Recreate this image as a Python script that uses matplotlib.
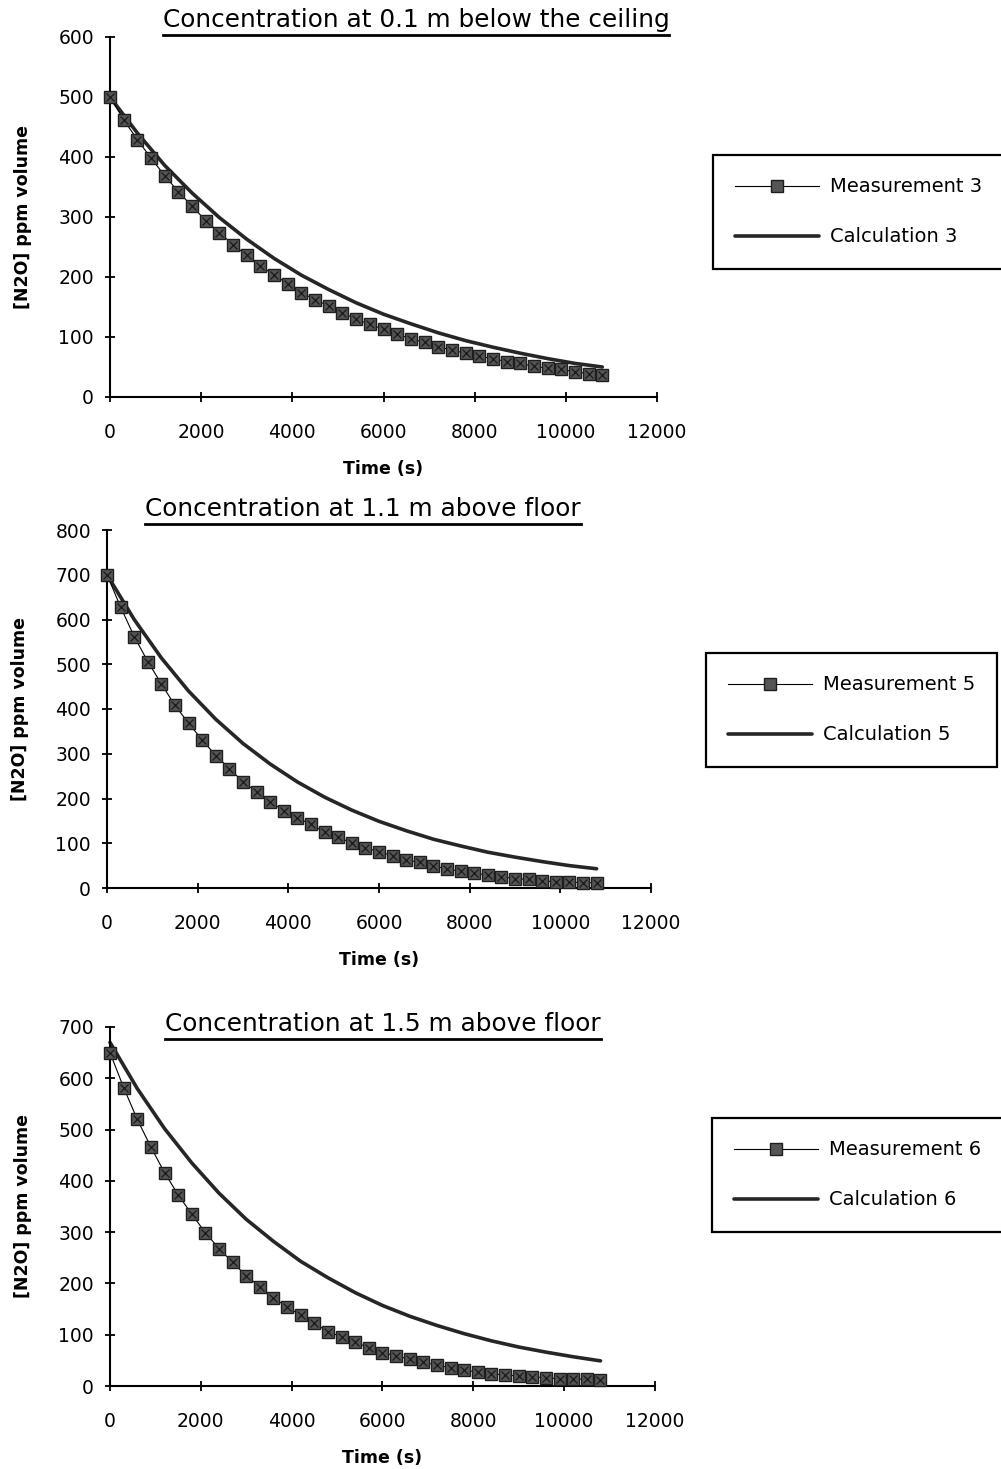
import numpy as np
import matplotlib
matplotlib.use("Agg")
import matplotlib.pyplot as plt
from matplotlib.lines import Line2D

# measurement times (s), one reading every 300 s
t_meas = np.arange(0, 10801, 300)
# calculation curve read every 600 s
t_calc = np.arange(0, 10801, 600)

meas3 = [500, 462, 429, 398, 369, 342, 318, 294, 274, 254, 236, 219, 203, 189,
         174, 162, 152, 140, 130, 121, 113, 105, 97, 91, 84, 78, 73, 68, 64,
         59, 56, 51, 48, 46, 42, 39, 36]
calc3 = [500, 440, 386, 340, 299, 263, 231, 203, 179, 157, 138, 122, 107, 94,
         83, 73, 64, 56, 50]

meas5 = [700, 628, 562, 506, 456, 408, 368, 331, 296, 267, 237, 215, 193, 172,
         157, 142, 125, 113, 101, 90, 81, 72, 63, 57, 49, 43, 37, 34, 28, 25,
         21, 19, 16, 14, 13, 12, 12]
calc5 = [700, 600, 514, 440, 377, 323, 277, 237, 203, 174, 149, 128, 109, 94,
         80, 69, 59, 50, 43]

meas6 = [650, 582, 520, 466, 416, 373, 335, 299, 268, 241, 215, 194, 172, 154,
         138, 122, 106, 96, 85, 75, 65, 59, 52, 47, 40, 36, 31, 27, 24, 21,
         20, 18, 16, 14, 14, 13, 12]
calc6 = [670, 580, 502, 435, 376, 325, 282, 243, 211, 182, 157, 136, 118, 102,
         88, 76, 66, 57, 49]

titles = ["Concentration at 0.1 m below the ceiling",
          "Concentration at 1.1 m above floor",
          "Concentration at 1.5 m above floor"]
numbers = [3, 5, 6]
ymaxes = [600, 800, 700]

W, H = 1001, 1469
fig = plt.figure(figsize=(W / 100, H / 100), dpi=100)
fig.patch.set_facecolor("white")

# pixel boxes: left, right, top, bottom of each plot area
boxes = [(110, 657, 37, 397), (107, 651, 530, 888), (110, 655, 1027, 1386)]
title_pos = [(416, 20), (363, 509), (383, 1024)]
legend_pos = [(713, 155), (706, 653), (712, 1118)]

panels = [(meas3, calc3), (meas5, calc5), (meas6, calc6)]

title_texts = []
for i in range(3):
    l, r, tp, b = boxes[i]
    ax = fig.add_axes([l / W, 1 - b / H, (r - l) / W, (b - tp) / H])
    meas, calc = panels[i]
    n = numbers[i]

    lc, = ax.plot(t_calc, calc, color="#262626", lw=2.6, clip_on=False,
                  solid_capstyle="round", zorder=2)
    lm, = ax.plot(t_meas, meas, color="black", lw=0.8, marker="s", ms=8,
                  mfc="#555555", mec="#1e1e1e", mew=1.0, clip_on=False,
                  zorder=3)
    ax.plot(t_meas, meas, ls="none", marker="x", ms=5.5, mec="#1e1e1e",
            mew=1.0, clip_on=False, zorder=4)

    ax.set_xlim(0, 12000)
    ax.set_ylim(0, ymaxes[i])
    ax.set_xticks(np.arange(0, 12001, 2000))
    ax.set_yticks(np.arange(0, ymaxes[i] + 1, 100))
    for s in ["top", "right"]:
        ax.spines[s].set_visible(False)
    for s in ["left", "bottom"]:
        ax.spines[s].set_linewidth(1.5)
    ax.tick_params(direction="inout", length=7, width=1.3, labelsize=13.5)
    ax.tick_params(axis="y", pad=8)
    ax.tick_params(axis="x", pad=15)
    ax.set_xlabel("Time (s)", fontsize=12.5, fontweight="bold", labelpad=13)
    ax.set_ylabel("[N2O] ppm volume", fontsize=12.5, fontweight="bold",
                  labelpad=19)

    lx, ly = legend_pos[i]
    leg = ax.legend([lm, lc], [f"Measurement {n}", f"Calculation {n}"],
                    loc="upper left", bbox_to_anchor=(lx / W, 1 - ly / H),
                    bbox_transform=fig.transFigure, fontsize=14,
                    numpoints=1, handlelength=4.3, handletextpad=0.55,
                    borderpad=1.15, labelspacing=1.6, fancybox=False,
                    framealpha=1, edgecolor="black", borderaxespad=0)
    leg.get_frame().set_linewidth(1.6)

    tx, ty = title_pos[i]
    title_texts.append(fig.text(tx / W, 1 - ty / H, titles[i], fontsize=17.8,
                                ha="center", va="center"))

# underline the titles
renderer = fig.canvas.get_renderer()
for txt in title_texts:
    bb = txt.get_window_extent(renderer=renderer)
    y = (bb.y0 - 3) / H
    fig.add_artist(Line2D([bb.x0 / W, bb.x1 / W], [y, y],
                          transform=fig.transFigure, color="black", lw=2))

fig.savefig("out.png", dpi=100)
